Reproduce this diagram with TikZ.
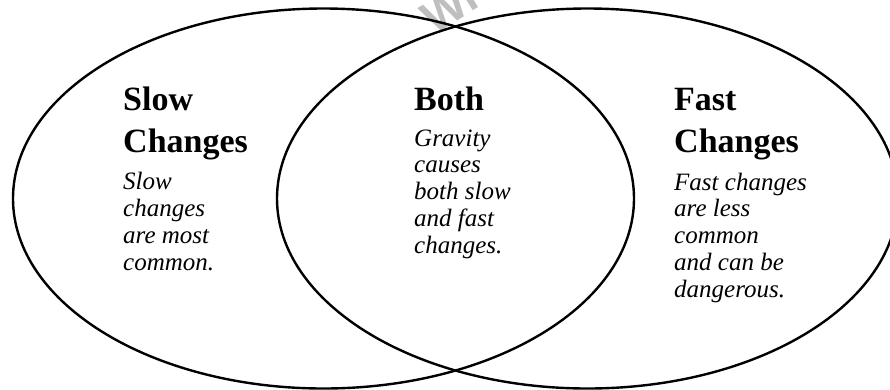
\documentclass[tikz,border=0pt]{standalone}
\usepackage{fontspec}
\setmainfont{Liberation Serif}
\setsansfont{Liberation Sans}
\begin{document}
\begin{tikzpicture}[x=1pt,y=-1pt,
  ring/.style={line width=2.4pt, draw=black},
  head/.style={anchor=base west, inner sep=0pt, align=left,
    font=\fontsize{34}{42}\selectfont\bfseries},
  body/.style={anchor=base west, inner sep=0pt, align=left,
    font=\fontsize{25}{26.7}\selectfont\itshape},
  wmark/.style={text=black!25, font=\fontsize{46}{46}\selectfont\sffamily\bfseries, rotate=32, inner sep=0pt}]
\useasboundingbox (0,0) rectangle (890,389);
\node[wmark] (wm) at (452,6) {Wr};
\draw[ring] (323.5,198.5) ellipse [x radius=310.5, y radius=190];
\draw[ring] (587.5,198.5) ellipse [x radius=310.5, y radius=190];
% base anchor of a multi-line node lies on its last line
\node[head] (slowh) at (123,152) {Slow\\Changes};
\node[body] (slowb) at (123,270) {Slow\\changes\\are most\\common.};
\node[head] (bothh) at (414,110) {Both};
\node[body] (bothb) at (414,253) {Gravity\\causes\\both slow\\and fast\\changes.};
\node[head] (fasth) at (674,152) {Fast\\Changes};
\node[body] (fastb) at (674,297) {Fast changes\\are less\\common\\and can be\\dangerous.};
\end{tikzpicture}
\end{document}
